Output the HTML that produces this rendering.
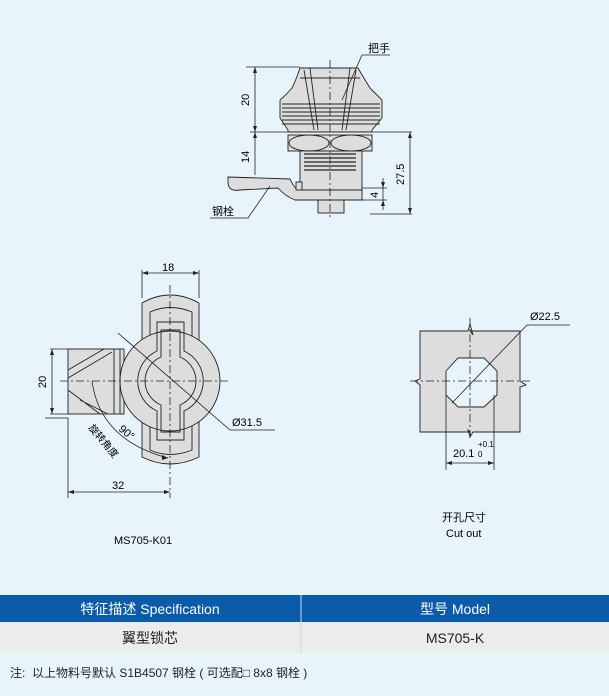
<!DOCTYPE html>
<html><head><meta charset="utf-8"><style>
body{margin:0;background:#e8f4fc;width:609px;height:696px;overflow:hidden;position:relative;font-family:"Liberation Sans","Noto Sans CJK SC",sans-serif}
svg{position:absolute;left:0;top:0}
</style></head><body>
<svg width="609" height="696" viewBox="0 0 609 696" font-family="Liberation Sans, Noto Sans CJK SC, sans-serif" font-size="11">
<g stroke="#222" stroke-width="0.9" fill="#ddd">
<path d="M300,68 L358,68 Q365,80 370,88 Q378,96 382,100 L382,118 L372,130 L372,132 L288,132 L288,130 L280,118 L280,100 Q285,96 292,88 Q296,80 300,68 Z"/>
<path d="M282,104 H380 M282,108 H380 M282,112 H380 M282,116 H380 M282,120 H380 M282,124 H380" fill="none"/>
<path d="M310,68 L318,130 M350,68 L342,130 M304,70 L314,130 M356,70 L346,130 M300,78 H360" fill="none"/>
<rect x="288" y="135" width="84" height="16"/>
<ellipse cx="309" cy="143" rx="20" ry="8"/><ellipse cx="351" cy="143" rx="20" ry="8"/>
<rect x="300" y="151" width="62" height="49"/>
<path d="M304,154 H356 M304,158 H356 M304,162 H356 M304,166 H356 M304,170 H356" fill="none" stroke-width="1.3"/>
<rect x="318" y="200" width="26" height="13"/>
<path d="M228,177 L290,179 Q295,190 300,190 L362,190 L362,200 L295,200 Q285,196 278,188 L240,190 Q228,192 228,182 Z"/>
<rect x="296" y="182" width="6" height="8"/>
</g>
<g stroke="#222" stroke-width="0.8" fill="none">
<path d="M330,60 V220" stroke-dasharray="8,3,2,3"/>
<path d="M246,67 H300 M250,132 H412 M370,214 H412 M362,188 H387 M362,200 H387"/>
<path d="M255,67 V175 M410,132 V214 M383,178 V210"/>
<path d="M362,55 H390 M362,55 L342,100"/>
<path d="M210,218 H248 L270,186"/>
</g>
<g fill="#222"><path d="M255,67 l-2,6 h4z M255,132 l-2,-6 h4z M255,132 l-2,6 h4z M410,132 l-2,6 h4z M410,214 l-2,-6 h4z M383,188 l-2,-6 h4z M383,200 l-2,6 h4z"/></g>
<text x="368" y="52">把手</text>
<text x="212" y="215">钢栓</text>
<text transform="translate(249,106) rotate(-90)">20</text>
<text transform="translate(249,163) rotate(-90)">14</text>
<text transform="translate(404,185) rotate(-90)">27.5</text>
<text transform="translate(378,198) rotate(-90)">4</text>

<g stroke="#222" stroke-width="0.9" fill="#ddd">
<rect x="68" y="349" width="56" height="65"/>
<path d="M142,303 Q170,287 199,303 L199,457 Q170,471 142,457 Z"/>
<path d="M150,312 Q170,303 192,312 L192,450 Q170,459 150,450 Z" fill="none"/>
<circle cx="170" cy="381" r="50"/>
<path d="M157,322 H184 V351 A33,33 0 0 1 184,411 V440 H157 V411 A33,33 0 0 1 157,351 Z" fill="none"/>
<path d="M161,330 H180 V357 A26,26 0 0 1 180,405 V432 H161 V405 A26,26 0 0 1 161,357 Z" fill="none"/>
<path d="M68,370 L104,349 M68,378 L112,352 M68,390 L100,414 M80,400 L108,414 M114,349 V414 M120,349 V414" fill="none"/>
</g>
<g stroke="#222" stroke-width="0.8" fill="none">
<path d="M170,285 V498 M60,381 H230" stroke-dasharray="8,3,2,3"/>
<path d="M142,298 V270 M199,298 V270 M142,273 H199"/>
<path d="M50,349 H68 M50,414 H68 M52,349 V414 M45,418 H68 V498 M68,492 H170"/>
<path d="M118,333 L230,430 H275"/>
<path d="M92,381 Q100,440 168,458"/>
</g>
<g fill="#222"><path d="M142,273 l6,-2 v4z M199,273 l-6,-2 v4z M52,349 l-2,6 h4z M52,414 l-2,-6 h4z M68,492 l6,-2 v4z M170,492 l-6,-2 v4z M168,458 l-6,-3 v5z"/></g>
<text x="162" y="271">18</text>
<text transform="translate(46,388) rotate(-90)">20</text>
<text x="232" y="426">Ø31.5</text>
<text x="112" y="489">32</text>
<text transform="translate(118,430) rotate(40)">90°</text>
<text transform="translate(88,428) rotate(50)" font-size="10">旋转角度</text>
<text x="114" y="544">MS705-K01</text>

<path d="M420,331 H468 L470,324 L473,335 L470,331 H520 V381 L526,385 L520,387 V432 H473 L470,437 L468,430 L470,432 H420 V385 L415,381 L420,379 Z" fill="#ddd" stroke="#222" stroke-width="0.9"/>
<path d="M458,358 H484 L497,371 V395 L484,407 H458 L446,395 V371 Z" fill="#e8f4fc" stroke="#222" stroke-width="0.9"/>
<g stroke="#222" stroke-width="0.8" fill="none">
<path d="M470,318 V440 M410,381 H530" stroke-dasharray="8,3,2,3"/>
<path d="M446,395 V470 M494,395 V470 M446,463 H494"/>
<path d="M452,403 L527,325 H570"/>
</g>
<g fill="#222"><path d="M446,463 l6,-2 v4z M494,463 l-6,-2 v4z"/></g>
<text x="530" y="320">Ø22.5</text>
<text x="453" y="457">20.1</text>
<text x="478" y="447" font-size="8">+0.1</text>
<text x="478" y="457" font-size="8">0</text>
<text x="442" y="521">开孔尺寸</text>
<text x="446" y="537">Cut out</text>

<rect x="0" y="595" width="609" height="27" fill="#0a5caa"/>
<rect x="0" y="622" width="609" height="31" fill="#ececec"/>
<line x1="301" y1="595" x2="301" y2="653" stroke="#c8d8e8" stroke-width="1"/>
<text x="150" y="614" fill="#fff" font-size="14" text-anchor="middle">特征描述 Specification</text>
<text x="455" y="614" fill="#fff" font-size="14" text-anchor="middle">型号 Model</text>
<text x="150" y="643" fill="#222" font-size="14" text-anchor="middle">翼型锁芯</text>
<text x="455" y="643" fill="#222" font-size="14" text-anchor="middle">MS705-K</text>
<text x="10" y="677" fill="#222" font-size="12" xml:space="preserve">注:  以上物料号默认 S1B4507 钢栓 ( 可选配□ 8x8 钢栓 )</text>
</svg>
</body></html>
